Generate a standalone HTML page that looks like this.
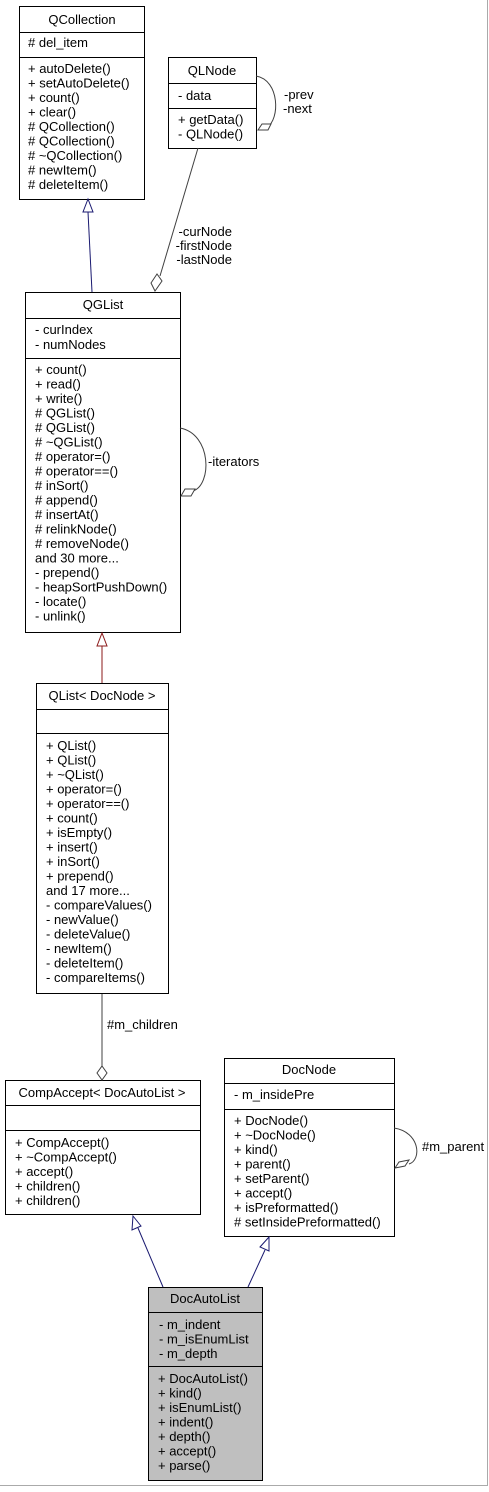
<!DOCTYPE html>
<html><head><meta charset="utf-8"><style>
html,body{margin:0;padding:0;background:#fff}
svg text{font-family:"Liberation Sans",Arial,sans-serif;font-size:13px;fill:#000}
</style></head><body>
<svg width="489" height="1487" viewBox="0 0 489 1487" xmlns="http://www.w3.org/2000/svg">
<rect width="489" height="1487" fill="#fff"/>
<line x1="487.5" y1="0" x2="487.5" y2="1486" stroke="#aaa" stroke-width="1"/>
<line x1="0" y1="1485.5" x2="488" y2="1485.5" stroke="#aaa" stroke-width="1"/>
<g fill="none" stroke="#000" stroke-width="1">
<rect x="19.5" y="6.5" width="125" height="193" fill="#fff"/>
<line x1="19.5" y1="32.5" x2="144.5" y2="32.5"/>
<line x1="19.5" y1="57.5" x2="144.5" y2="57.5"/>
<rect x="168.5" y="57.5" width="88" height="91" fill="#fff"/>
<line x1="168.5" y1="83.5" x2="256.5" y2="83.5"/>
<line x1="168.5" y1="108.5" x2="256.5" y2="108.5"/>
<rect x="25.5" y="292.5" width="155" height="340" fill="#fff"/>
<line x1="25.5" y1="318.5" x2="180.5" y2="318.5"/>
<line x1="25.5" y1="358.5" x2="180.5" y2="358.5"/>
<rect x="36.5" y="683.5" width="132" height="310" fill="#fff"/>
<line x1="36.5" y1="709.5" x2="168.5" y2="709.5"/>
<line x1="36.5" y1="733.5" x2="168.5" y2="733.5"/>
<rect x="5.5" y="1080.5" width="195" height="134" fill="#fff"/>
<line x1="5.5" y1="1105.5" x2="200.5" y2="1105.5"/>
<line x1="5.5" y1="1130.5" x2="200.5" y2="1130.5"/>
<rect x="224.5" y="1058.5" width="170" height="178" fill="#fff"/>
<line x1="224.5" y1="1083.5" x2="394.5" y2="1083.5"/>
<line x1="224.5" y1="1109.5" x2="394.5" y2="1109.5"/>
<rect x="148.5" y="1287.5" width="114" height="193" fill="#bfbfbf"/>
<line x1="148.5" y1="1312.5" x2="262.5" y2="1312.5"/>
<line x1="148.5" y1="1366.5" x2="262.5" y2="1366.5"/>
</g>
<g fill="none" stroke-width="1">
<line x1="92" y1="292" x2="88" y2="212" stroke="#191970"/>
<polygon points="88,199 83,212 93,212" fill="#fff" stroke="#191970"/>
<line x1="198" y1="148" x2="160" y2="276" stroke="#404040"/>
<polygon points="155,291 151,283 157,274 162,281" fill="#fff" stroke="#404040"/>
<path d="M256,76 C280,80 280,120 267,127" stroke="#404040"/>
<polygon points="258,130 262,124 271,124 268,130" fill="#fff" stroke="#404040"/>
<path d="M180,428 C212,434 212,485 193,491" stroke="#404040"/>
<polygon points="181,496 185,489 195,489 191,496" fill="#fff" stroke="#404040"/>
<line x1="102" y1="683" x2="102" y2="646" stroke="#8b1a1a"/>
<polygon points="102,633 97,646 107,646" fill="#fff" stroke="#8b1a1a"/>
<line x1="102" y1="994" x2="102" y2="1066" stroke="#404040"/>
<polygon points="102,1080 97,1073 102,1066 107,1073" fill="#fff" stroke="#404040"/>
<path d="M394,1128 C420,1132 422,1160 409,1164" stroke="#404040"/>
<polygon points="395,1168 399,1162 409,1160 405,1166" fill="#fff" stroke="#404040"/>
<line x1="163" y1="1287" x2="138" y2="1228" stroke="#191970"/>
<polygon points="133,1216 132,1230 141,1226" fill="#fff" stroke="#191970"/>
<line x1="248" y1="1287" x2="265" y2="1250" stroke="#191970"/>
<polygon points="269,1237 260,1247 269,1251" fill="#fff" stroke="#191970"/>
</g>
<text x="232" y="236" text-anchor="end">-curNode</text>
<text x="232" y="250" text-anchor="end">-firstNode</text>
<text x="232" y="264" text-anchor="end">-lastNode</text>
<text x="284" y="99">-prev</text>
<text x="283" y="113">-next</text>
<text x="208" y="466">-iterators</text>
<text x="107" y="1029">#m_children</text>
<text x="422" y="1151">#m_parent</text>
<text x="82" y="24" text-anchor="middle">QCollection</text>
<text x="28" y="47"># del_item</text>
<text x="28" y="73">+ autoDelete()</text>
<text x="28" y="87.5">+ setAutoDelete()</text>
<text x="28" y="102">+ count()</text>
<text x="28" y="116.5">+ clear()</text>
<text x="28" y="131"># QCollection()</text>
<text x="28" y="145.5"># QCollection()</text>
<text x="28" y="160"># ~QCollection()</text>
<text x="28" y="174.5"># newItem()</text>
<text x="28" y="189"># deleteItem()</text>
<text x="212" y="75" text-anchor="middle">QLNode</text>
<text x="178" y="100">- data</text>
<text x="178" y="124">+ getData()</text>
<text x="178" y="138.5">- QLNode()</text>
<text x="103" y="309" text-anchor="middle">QGList</text>
<text x="35" y="334">- curIndex</text>
<text x="35" y="349">- numNodes</text>
<text x="35" y="374">+ count()</text>
<text x="35" y="388.5">+ read()</text>
<text x="35" y="403">+ write()</text>
<text x="35" y="417.5"># QGList()</text>
<text x="35" y="432"># QGList()</text>
<text x="35" y="446.5"># ~QGList()</text>
<text x="35" y="461"># operator=()</text>
<text x="35" y="475.5"># operator==()</text>
<text x="35" y="490"># inSort()</text>
<text x="35" y="504.5"># append()</text>
<text x="35" y="519"># insertAt()</text>
<text x="35" y="533.5"># relinkNode()</text>
<text x="35" y="548"># removeNode()</text>
<text x="35" y="562.5">and 30 more...</text>
<text x="35" y="577">- prepend()</text>
<text x="35" y="591.5">- heapSortPushDown()</text>
<text x="35" y="606">- locate()</text>
<text x="35" y="620.5">- unlink()</text>
<text x="102" y="700" text-anchor="middle">QList&lt; DocNode &gt;</text>
<text x="46" y="750">+ QList()</text>
<text x="46" y="764.5">+ QList()</text>
<text x="46" y="779">+ ~QList()</text>
<text x="46" y="793.5">+ operator=()</text>
<text x="46" y="808">+ operator==()</text>
<text x="46" y="822.5">+ count()</text>
<text x="46" y="837">+ isEmpty()</text>
<text x="46" y="851.5">+ insert()</text>
<text x="46" y="866">+ inSort()</text>
<text x="46" y="880.5">+ prepend()</text>
<text x="46" y="895">and 17 more...</text>
<text x="46" y="909.5">- compareValues()</text>
<text x="46" y="924">- newValue()</text>
<text x="46" y="938.5">- deleteValue()</text>
<text x="46" y="953">- newItem()</text>
<text x="46" y="967.5">- deleteItem()</text>
<text x="46" y="982">- compareItems()</text>
<text x="102" y="1097" text-anchor="middle">CompAccept&lt; DocAutoList &gt;</text>
<text x="15" y="1147">+ CompAccept()</text>
<text x="15" y="1161.5">+ ~CompAccept()</text>
<text x="15" y="1176">+ accept()</text>
<text x="15" y="1190.5">+ children()</text>
<text x="15" y="1205">+ children()</text>
<text x="309" y="1074" text-anchor="middle">DocNode</text>
<text x="234" y="1099">- m_insidePre</text>
<text x="234" y="1125">+ DocNode()</text>
<text x="234" y="1139.5">+ ~DocNode()</text>
<text x="234" y="1154">+ kind()</text>
<text x="234" y="1168.5">+ parent()</text>
<text x="234" y="1183">+ setParent()</text>
<text x="234" y="1197.5">+ accept()</text>
<text x="234" y="1212">+ isPreformatted()</text>
<text x="234" y="1226.5"># setInsidePreformatted()</text>
<text x="205" y="1303" text-anchor="middle">DocAutoList</text>
<text x="159" y="1329">- m_indent</text>
<text x="159" y="1343.5">- m_isEnumList</text>
<text x="159" y="1358">- m_depth</text>
<text x="158" y="1383">+ DocAutoList()</text>
<text x="158" y="1397.5">+ kind()</text>
<text x="158" y="1412">+ isEnumList()</text>
<text x="158" y="1426.5">+ indent()</text>
<text x="158" y="1441">+ depth()</text>
<text x="158" y="1455.5">+ accept()</text>
<text x="158" y="1470">+ parse()</text>
</svg>
</body></html>
